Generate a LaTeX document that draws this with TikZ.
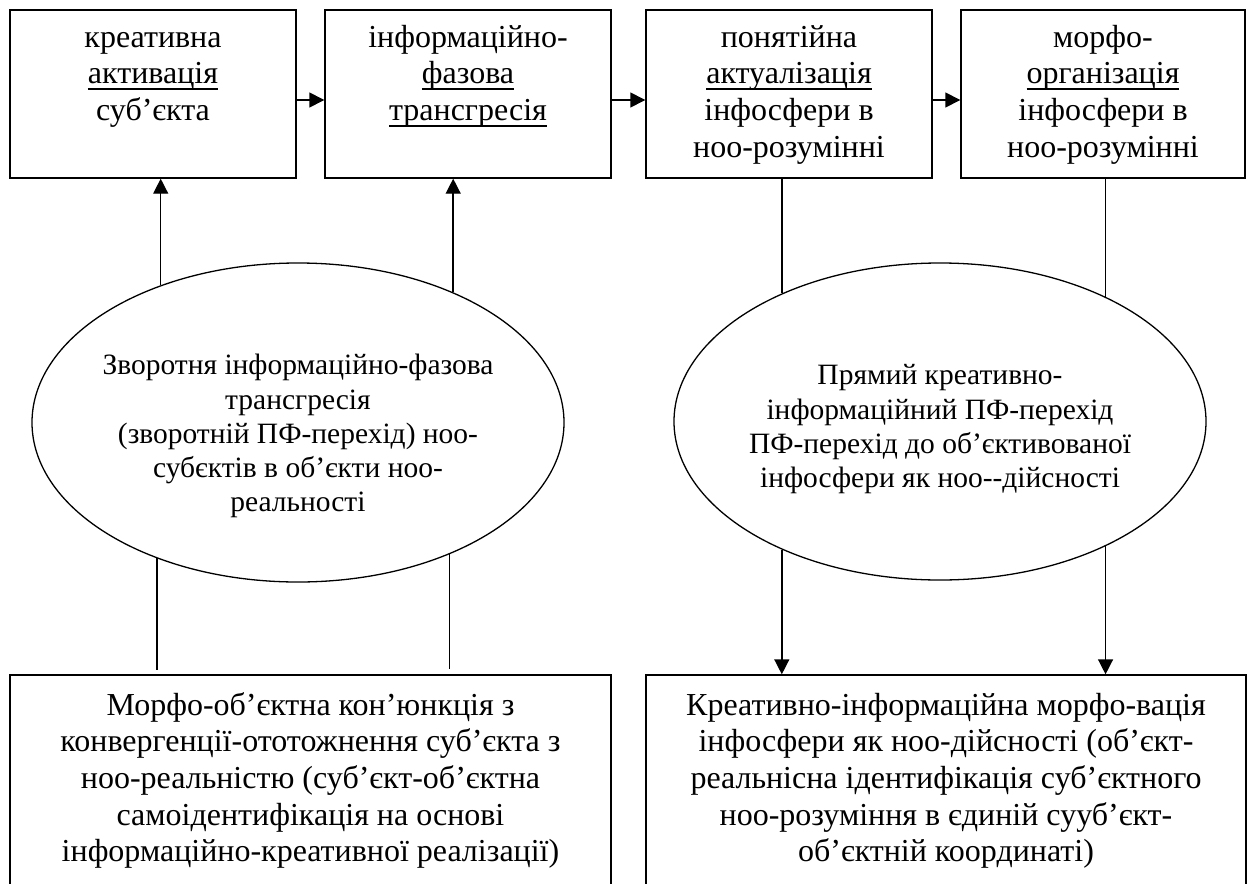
\documentclass[tikz,border=0pt]{standalone}
\usepackage{fontspec}
\setmainfont{Liberation Serif}
\usetikzlibrary{shapes.geometric,arrows.meta}
\newsavebox{\ulbox}
\newcommand{\undl}[1]{\sbox{\ulbox}{#1}\rlap{\rule[-6pt]{\wd\ulbox}{1.4pt}}\usebox{\ulbox}}
\begin{document}
\begin{tikzpicture}[x=1pt,y=-1pt,line width=1.4pt,
  box/.style={draw,rectangle,inner sep=0pt},
  oval/.style={draw,ellipse,inner sep=0pt,line width=1.3pt},
  txt/.style={align=center,inner sep=0pt,font=\fontsize{32}{36.7}\selectfont},
  etxt/.style={align=center,inner sep=0pt,font=\fontsize{29.5}{34.3}\selectfont},
  arr/.style={-{Triangle[length=15pt,width=15pt]}}]
\clip (0,0) rectangle (1249,883);
\fill[white] (0,0) rectangle (1249,883);
% top boxes
\node[box,minimum width=286,minimum height=168] (b1) at (153,94) {};
\node[box,minimum width=286,minimum height=168] (b2) at (468,94) {};
\node[box,minimum width=286,minimum height=168] (b3) at (789,94) {};
\node[box,minimum width=284,minimum height=168] (b4) at (1103,94) {};
\node[txt,anchor=north,yshift=-11.5pt] (t1) at (b1.north) {\strut креативна\\ \undl{активація}\\ суб’єкта};
\node[txt,anchor=north,yshift=-11.5pt] (t2) at (b2.north) {\strut інформаційно-\\ \undl{фазова}\\ \undl{трансгресія}};
\node[txt,anchor=north,yshift=-11.5pt] (t3) at (b3.north) {\strut понятійна\\ \undl{актуалізація}\\ інфосфери в\\ ноо-розумінні};
\node[txt,anchor=north,yshift=-11.5pt] (t4) at (b4.north) {\strut морфо-\\ \undl{організація}\\ інфосфери в\\ ноо-розумінні};
% ellipses
\node[oval,minimum width=532,minimum height=319] (e1) at (298,422.5) {};
\node[oval,minimum width=532,minimum height=317] (e2) at (940,421.5) {};
\node[etxt,yshift=-14pt] (et1) at (e1.center) {\strut Зворотня інформаційно-фазова\\ трансгресія\\ (зворотній ПФ-перехід) ноо-\\ субєктів в об’єкти ноо-\\ реальності\strut};
\node[etxt,yshift=-8pt] (et2) at (e2.center) {\strut Прямий креативно-\\ інформаційний ПФ-перехід\\ ПФ-перехід до об’єктивованої\\ інфосфери як ноо-{}-дійсності\strut};
% bottom boxes
\node[box,minimum width=601,minimum height=225] (bl) at (310.5,787.5) {};
\node[box,minimum width=600,minimum height=225] (br) at (946,787.5) {};
\node[txt,anchor=north,yshift=-14.3pt] (tl) at (bl.north) {\strut Морфо-об’єктна кон’юнкція з\\ конвергенції-ототожнення суб’єкта з\\ ноо-реальністю (суб’єкт-об’єктна\\ самоідентифікація на основі\\ інформаційно-креативної реалізації)};
\node[txt,anchor=north,yshift=-14.3pt] (tr) at (br.north) {\strut Креативно-інформаційна морфо-вація\\ інфосфери як ноо-дійсності (об’єкт-\\ реальнісна ідентифікація суб’єктного\\ ноо-розуміння в єдиній сууб’єкт-\\ об’єктній координаті)};
% horizontal arrows
\draw[arr] ([yshift=-6pt]b1.east) -- ([yshift=-6pt]b2.west);
\draw[arr] ([yshift=-6pt]b2.east) -- ([yshift=-6pt]b3.west);
\draw[arr] ([yshift=-6pt]b3.east) -- ([yshift=-6pt]b4.west);
% left ellipse connectors
\draw[arr] (e1.135.6) -- (e1.135.6 |- b1.south);
\draw[arr] (e1.40.9) -- (e1.40.9 |- b2.south);
\draw[shorten >=4pt] (e1.224.4) -- (e1.224.4 |- bl.north);
\draw[shorten >=5pt] (e1.319.1) -- (e1.319.1 |- bl.north);
% right ellipse connectors
\draw (b3.south -| e2.141.4) -- (e2.141.4);
\draw (b4.south -| e2.37.4) -- (e2.37.4);
\draw[arr] (e2.219.7) -- (e2.219.7 |- br.north);
\draw[arr] (e2.323.3) -- (e2.323.3 |- br.north);
\end{tikzpicture}
\end{document}
